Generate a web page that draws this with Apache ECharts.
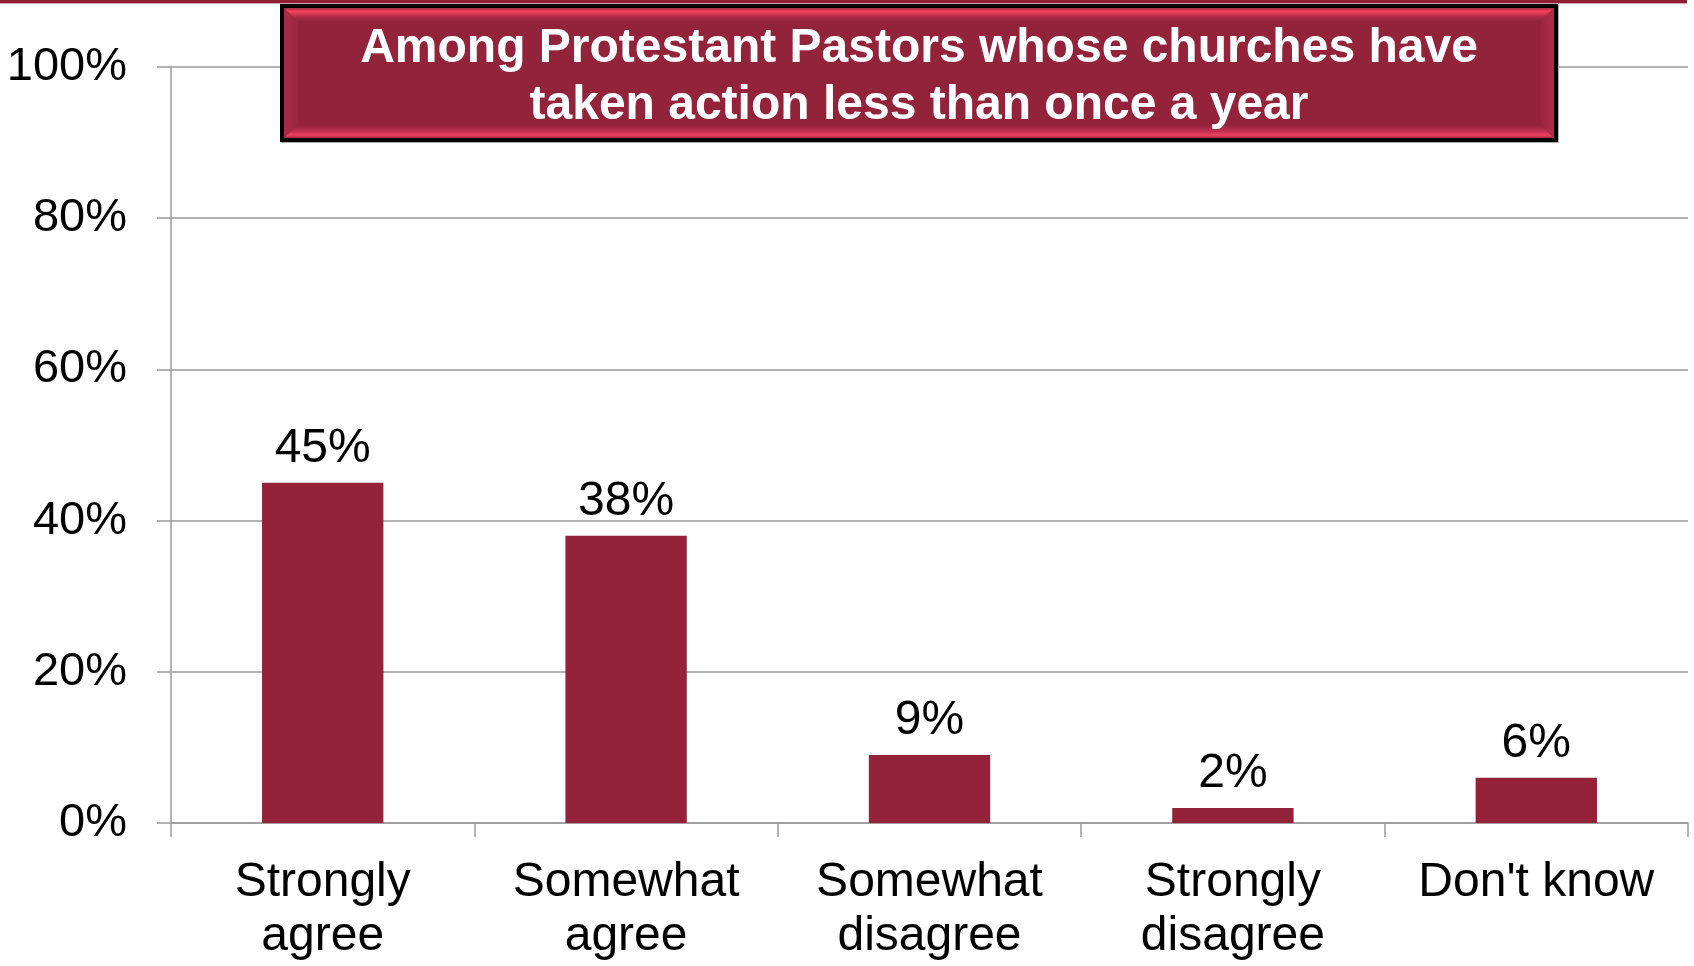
<!DOCTYPE html>
<html>
<head>
<meta charset="utf-8">
<script src="https://cdn.jsdelivr.net/npm/echarts@6/dist/echarts.min.js"></script>
<style>
html,body{margin:0;padding:0;background:#fff;}
#chart{width:1694px;height:966px;}
</style>
</head>
<body>
<div id="chart"></div>
<script>
const categories = ['Strongly\nagree', 'Somewhat\nagree', 'Somewhat\ndisagree', 'Strongly\ndisagree', "Don't know"];
const values = [45, 38, 9, 2, 6];
const yTicks = [0, 20, 40, 60, 80, 100];
const titleLines = ['Among Protestant Pastors whose churches have', 'taken action less than once a year'];

const FONT = '"Liberation Sans", Arial, Helvetica, sans-serif';
const BAR = '#93223a';

const chart = echarts.init(document.getElementById('chart'), null, {renderer: 'canvas'});

// title box geometry
const bx = 280, by = 4, bw = 1278, bh = 138, bb = 4, bev = 14;
const ix = bx + bb, iy = by + bb, iw = bw - 2 * bb, ih = bh - 2 * bb;

chart.setOption({
  animation: false,
  backgroundColor: '#ffffff',
  grid: {left: 171, right: 6, top: 67, bottom: 143, containLabel: false},
  xAxis: {
    type: 'category',
    data: categories,
    axisLine: {show: true, lineStyle: {color: '#9a9a9a', width: 1.5}},
    axisTick: {show: true, length: 14, alignWithLabel: false, lineStyle: {color: '#9a9a9a', width: 1.5}},
    axisLabel: {
      margin: 33,
      interval: 0,
      color: '#000',
      fontFamily: FONT,
      fontSize: 48,
      lineHeight: 54
    }
  },
  yAxis: {
    type: 'value',
    min: yTicks[0],
    max: yTicks[yTicks.length - 1],
    interval: 20,
    axisLine: {show: true, lineStyle: {color: '#9a9a9a', width: 1.5}},
    axisTick: {show: true, inside: false, length: 14, lineStyle: {color: '#9a9a9a', width: 1.5}},
    splitLine: {show: true, lineStyle: {color: '#9a9a9a', width: 1.5}},
    axisLabel: {
      margin: 44,
      color: '#000',
      fontFamily: FONT,
      fontSize: 47,
      formatter: v => v + '%'
    }
  },
  series: [{
    type: 'bar',
    data: values,
    barCategoryGap: '60%',
    itemStyle: {color: BAR},
    label: {
      show: true,
      position: 'top',
      distance: 10,
      color: '#000',
      fontFamily: FONT,
      fontSize: 48,
      formatter: p => p.value + '%'
    }
  }],
  graphic: [
    {type: 'rect', shape: {x: 0, y: 0, width: 1687, height: 3}, style: {fill: '#8e2036'}, z: 10},
    {type: 'rect', shape: {x: 0, y: 3, width: 1687, height: 1}, style: {fill: '#d7a3ae'}, z: 10},
    // box shadow + black border
    {type: 'rect', shape: {x: bx + 1, y: by + 1, width: bw, height: bh}, style: {fill: '#b0b0b0'}, z: 11},
    {type: 'rect', shape: {x: bx, y: by, width: bw, height: bh}, style: {fill: '#000'}, z: 12},
    {type: 'rect', shape: {x: ix, y: iy, width: iw, height: ih}, style: {fill: '#93233b'}, z: 13},
    // bevel top
    {type: 'polygon', z: 14, shape: {points: [[ix, iy], [ix + iw, iy], [ix + iw - bev, iy + bev], [ix + bev, iy + bev]]},
      style: {fill: new echarts.graphic.LinearGradient(0, 0, 0, 1, [{offset: 0, color: '#a52a45'}, {offset: 0.25, color: '#f7435f'}, {offset: 0.6, color: '#b02c49'}, {offset: 1, color: '#8e2138'}])}},
    // bevel bottom
    {type: 'polygon', z: 14, shape: {points: [[ix, iy + ih], [ix + iw, iy + ih], [ix + iw - bev, iy + ih - bev], [ix + bev, iy + ih - bev]]},
      style: {fill: new echarts.graphic.LinearGradient(0, 0, 0, 1, [{offset: 0, color: '#8e2138'}, {offset: 0.45, color: '#b52d4c'}, {offset: 0.8, color: '#ee3f5d'}, {offset: 1, color: '#a02842'}])}},
    // bevel left
    {type: 'polygon', z: 14, shape: {points: [[ix, iy], [ix + bev, iy + bev], [ix + bev, iy + ih - bev], [ix, iy + ih]]},
      style: {fill: new echarts.graphic.LinearGradient(0, 0, 1, 0, [{offset: 0, color: '#b02c49'}, {offset: 1, color: '#972540'}])}},
    // bevel right
    {type: 'polygon', z: 14, shape: {points: [[ix + iw, iy], [ix + iw - bev, iy + bev], [ix + iw - bev, iy + ih - bev], [ix + iw, iy + ih]]},
      style: {fill: new echarts.graphic.LinearGradient(0, 0, 1, 0, [{offset: 0, color: '#972540'}, {offset: 1, color: '#b02c49'}])}},
    {type: 'text', z: 15, x: bx + bw / 2, y: 49,
      style: {text: titleLines[0], fill: '#fff', font: 'bold 48px ' + FONT, textAlign: 'center', textVerticalAlign: 'middle'}},
    {type: 'text', z: 15, x: bx + bw / 2, y: 106,
      style: {text: titleLines[1], fill: '#fff', font: 'bold 48px ' + FONT, textAlign: 'center', textVerticalAlign: 'middle'}}
  ]
});
</script>
</body>
</html>
